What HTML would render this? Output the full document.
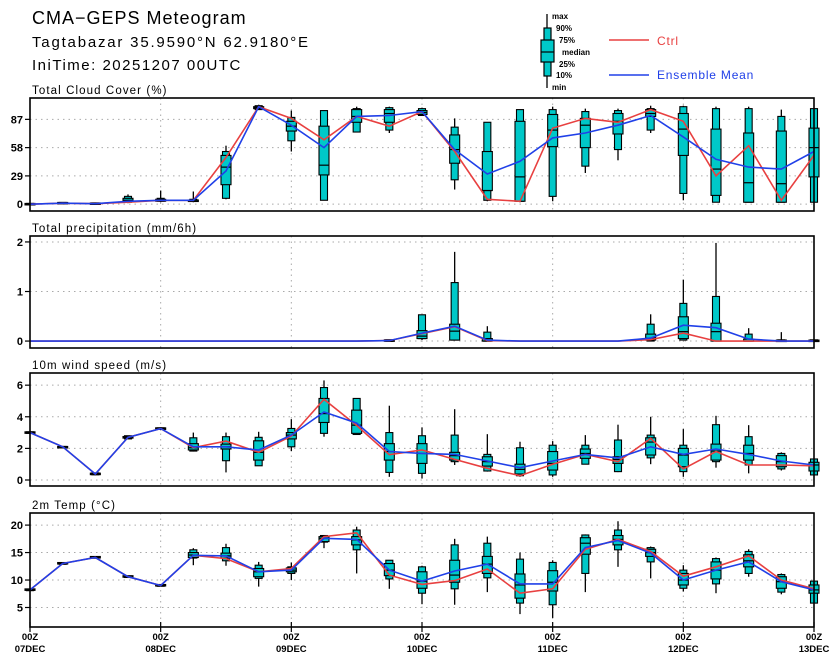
<!DOCTYPE html>
<html><head><meta charset="utf-8"><style>
html,body{margin:0;padding:0;background:#fff;}
svg{display:block;font-family:"Liberation Sans",sans-serif;}
</style></head><body>
<svg id="chart" width="840" height="664" viewBox="0 0 840 664" xmlns="http://www.w3.org/2000/svg">
<text x="32" y="24" font-size="18" letter-spacing="1">CMA−GEPS Meteogram</text>
<text x="32" y="47" font-size="15" letter-spacing="1.8">Tagtabazar 35.9590°N 62.9180°E</text>
<text x="32" y="70" font-size="15" letter-spacing="1.5">IniTime: 20251207 00UTC</text>
<g>
<line x1="547" y1="14" x2="547" y2="88" stroke="#000" stroke-width="1.3"/>
<rect x="544" y="28" width="7" height="48" fill="#00c8c8" stroke="#000" stroke-width="1.2"/>
<rect x="541" y="40" width="13" height="22" fill="#00c8c8" stroke="#000" stroke-width="1.2"/>
<line x1="541" y1="52" x2="554" y2="52" stroke="#000" stroke-width="1.2"/>
<g font-size="8" font-weight="bold">
<text x="552" y="19">max</text><text x="556" y="31">90%</text><text x="559" y="43">75%</text>
<text x="562" y="55">median</text><text x="559" y="67">25%</text><text x="556" y="78">10%</text><text x="552" y="90">min</text>
</g>
<line x1="609" y1="40" x2="649" y2="40" stroke="#e84040" stroke-width="1.5"/>
<text x="657" y="45" font-size="12" fill="#e84040" letter-spacing="0.8">Ctrl</text>
<line x1="609" y1="75" x2="649" y2="75" stroke="#2040e8" stroke-width="1.5"/>
<text x="657" y="79" font-size="12" fill="#2040e8" letter-spacing="0.8">Ensemble Mean</text>
</g>
</svg>
<script>
// ---- data ----
var dayLabels = ["07DEC","08DEC","09DEC","10DEC","11DEC","12DEC","13DEC"];
// Cloud cover (%)
var cloudMin = [0,1,0.5,1,2,2,5,97,54,4,74,73,91,15,3,2,3,32,45,73,4,2,2,2,2];
var cloudP10 = [0,1,0.5,2,3,3,6,97,65,4,74,76,91,25,4,3,8,39,56,76,11,2,2,2,2];
var cloudP25 = [0,1,0.5,3,3,3,20,98,75,30,84,84,92,42,14,3,59,58,72,90,50,9,2,2,28];
var cloudMed = [0,1,0.5,4,4,4,38,99,80,40,90,93,94,56,14,28,76,81,85,93,77,36,22,21,58];
var cloudP75 = [0,1,0.5,6,5,4,50,100,85,80,97,97,96,71,54,85,92,88,93,97,93,77,73,75,78];
var cloudP90 = [0,1,0.5,8,6,5,54,101,89,96,98,99,98,79,84,97,97,95,96,98,100,98,98,90,98];
var cloudMax = [0,1,0.5,10,14,13,60,102,96,96,100,100,99,88,84,97,100,98,98,101,101,100,100,97,98];
var cloudCtrl = [0,1,0.5,2,4,4,48,100,88,66,90,80,95,54,5,3,78,88,84,97,85,29,60,4,50];
var cloudMean = [0,1,0.5,3,4,4,34,100,81,58,90,91,95,56,31,44,68,73,81,91,69,46,38,36,54];
// Precipitation (mm/6h)
var prMin = [0,0,0,0,0,0,0,0,0,0,0,0,0.02,0.02,0,0,0,0,0,0,0.02,0,0,0,0];
var prP10 = [0,0,0,0,0,0,0,0,0,0,0,0,0.05,0.02,0,0,0,0,0,0,0.02,0,0,0,0];
var prP25 = [0,0,0,0,0,0,0,0,0,0,0,0,0.05,0.02,0,0,0,0,0,0.02,0.05,0,0,0,0];
var prMed = [0,0,0,0,0,0,0,0,0,0,0,0.01,0.1,0.2,0,0,0,0,0,0.06,0.19,0.19,0,0,0];
var prP75 = [0,0,0,0,0,0,0,0,0,0,0,0.02,0.21,0.34,0.05,0,0,0,0,0.14,0.49,0.36,0.04,0.01,0.01];
var prP90 = [0,0,0,0,0,0,0,0,0,0,0,0.02,0.53,1.18,0.18,0,0,0,0,0.34,0.76,0.9,0.14,0.02,0.02];
var prMax = [0,0,0,0,0,0,0,0,0,0,0,0.03,0.53,1.8,0.3,0,0,0,0,0.54,1.24,1.98,0.26,0.18,0.03];
var prCtrl = [0,0,0,0,0,0,0,0,0,0,0,0.01,0.15,0.29,0.01,0,0,0,0,0.03,0.16,0,0,0,0];
var prMean = [0,0,0,0,0,0,0,0,0,0,0,0.01,0.16,0.3,0.02,0,0,0,0,0.06,0.32,0.27,0.04,0,0];
// Wind speed (m/s)
var wMin = [3,2.05,0.3,2.6,3.15,1.8,0.48,0.9,1.83,2.74,2.85,0.2,0.1,0.95,0.53,0.2,0.2,1.0,0.5,1.0,0.2,0.78,0.42,0.6,0.32];
var wP10 = [3,2.05,0.33,2.6,3.2,1.83,1.22,0.9,2.1,2.95,2.88,0.48,0.42,1.16,0.57,0.27,0.32,1.0,0.53,1.4,0.53,1.16,0.95,0.7,0.32];
var wP25 = [3,2.05,0.35,2.65,3.2,1.9,1.96,1.26,2.6,3.64,2.95,1.26,1.05,1.26,0.88,0.38,0.63,1.37,1.05,1.58,0.84,1.26,1.26,0.84,0.57];
var wMed = [3,2.1,0.38,2.7,3.25,2.04,2.1,1.75,2.84,4.2,3.47,1.8,1.68,1.54,1.16,0.67,1.05,1.68,1.3,2.4,1.58,1.83,1.68,1.16,0.95];
var wP75 = [3,2.1,0.42,2.75,3.3,2.3,2.27,2.48,3.0,5.16,4.42,2.3,2.3,1.75,1.47,1.0,1.8,1.96,1.47,2.67,2.0,2.27,2.2,1.54,1.12];
var wP90 = [3,2.1,0.45,2.8,3.3,2.67,2.74,2.7,3.26,5.85,5.16,3.0,2.8,2.84,1.62,2.04,2.2,2.2,2.53,2.84,2.2,3.5,2.74,1.68,1.33];
var wMax = [3,2.1,0.45,2.8,3.35,3.0,3.0,3.05,3.85,6.3,5.16,4.7,3.33,4.48,2.9,2.42,2.46,2.84,3.5,4.0,3.22,4.06,3.47,1.75,1.33];
var wCtrl = [3,2.1,0.38,2.7,3.25,2.05,2.46,1.75,2.78,5.1,3.45,1.6,1.9,1.3,0.74,0.27,1.0,1.62,1.16,2.63,0.7,1.8,0.95,0.95,0.9];
var wMean = [3,2.1,0.38,2.7,3.25,2.1,2.1,1.9,2.84,4.3,3.6,1.8,1.68,1.62,1.2,0.78,1.2,1.62,1.4,2.1,1.62,1.96,1.62,1.2,0.95];
// 2m temperature (°C)
var tMin = [8.1,12.9,14.0,10.5,8.9,12.7,12.6,8.8,10.0,15.8,11.2,8.4,5.6,5.5,7.8,3.8,3.1,7.8,12.4,10.3,7.9,7.6,10.6,7.4,5.8];
var tP10 = [8.1,12.9,14.0,10.5,8.9,14.0,13.5,10.3,11.2,16.9,15.5,10.2,7.6,8.4,10.4,5.8,5.5,11.2,15.5,13.3,8.5,9.3,11.2,7.8,5.8];
var tP25 = [8.2,13.0,14.1,10.6,9.0,14.1,14.0,10.6,11.5,17.0,16.4,10.8,8.5,9.6,11.2,6.7,8.0,14.7,16.4,14.3,9.1,10.2,12.4,8.5,7.6];
var tMed = [8.2,13.0,14.1,10.6,9.0,14.55,14.4,11.5,11.8,17.6,17.3,11.8,9.8,10.9,12.9,9.1,9.6,16.7,17.4,15.0,10.0,11.8,13.5,9.7,8.2];
var tP75 = [8.3,13.1,14.2,10.7,9.1,15.0,14.9,12.1,12.2,17.9,17.9,13.0,11.5,13.6,14.3,11.1,11.7,17.7,18.1,15.6,11.2,13.3,14.6,10.6,9.1];
var tP90 = [8.3,13.1,14.2,10.7,9.1,15.5,15.9,12.7,12.4,18.1,19.1,13.6,12.4,16.4,16.7,13.8,13.2,18.2,19.1,15.9,11.8,13.9,15.2,11.0,9.8];
var tMax = [8.3,13.1,14.2,10.7,9.1,15.8,16.6,13.3,13.2,18.2,19.7,13.6,12.6,17.5,17.9,15.0,13.6,18.3,20.7,16.1,12.7,14.1,15.6,11.2,9.8];
var tCtrl = [8.2,13.0,14.1,10.6,9.0,14.5,13.9,11.5,12.1,17.9,18.6,10.9,9.2,9.9,12.0,7.6,8.4,15.6,17.4,15.2,10.7,12.4,14.4,10.0,8.4];
var tMean = [8.2,13.0,14.1,10.6,9.0,14.5,14.4,11.5,11.8,17.6,17.4,11.8,9.8,11.65,12.9,9.3,9.3,15.9,17.2,14.9,10.0,11.8,13.3,9.7,8.2];
var cloudTicks = [0,29,58,87];
var prTicks = [0,1,2];
var wTicks = [0,2,4,6];
var tTicks = [5,10,15,20];

// ---- drawing ----
var NS = "http://www.w3.org/2000/svg";
var svg = document.getElementById("chart");
var X0 = 30, X1 = 814, NSTEP = 24;
function xScale(i){ return X0 + (X1 - X0) * i / NSTEP; }
function mk(tag, attrs, parent){
  var e = document.createElementNS(NS, tag);
  for (var k in attrs) e.setAttribute(k, attrs[k]);
  (parent || svg).appendChild(e);
  return e;
}
var panels = [
  {name:"cloud", title:"Total Cloud Cover (%)", top:98, bottom:211, vmin:-7, vmax:108.9, ticks:cloudTicks,
   d:[cloudMin,cloudP10,cloudP25,cloudMed,cloudP75,cloudP90,cloudMax], ctrl:cloudCtrl, mean:cloudMean},
  {name:"precip", title:"Total precipitation (mm/6h)", top:236, bottom:348, vmin:-0.14, vmax:2.12, ticks:prTicks,
   d:[prMin,prP10,prP25,prMed,prP75,prP90,prMax], ctrl:prCtrl, mean:prMean},
  {name:"wind", title:"10m wind speed (m/s)", top:373, bottom:486, vmin:-0.38, vmax:6.77, ticks:wTicks,
   d:[wMin,wP10,wP25,wMed,wP75,wP90,wMax], ctrl:wCtrl, mean:wMean},
  {name:"temp", title:"2m Temp (°C)", top:513, bottom:627, vmin:1.45, vmax:22.2, ticks:tTicks,
   d:[tMin,tP10,tP25,tMed,tP75,tP90,tMax], ctrl:tCtrl, mean:tMean}
];
panels.forEach(function(p){
  var g = mk("g", {});
  
  
  function y(v){ return p.bottom - (v - p.vmin) / (p.vmax - p.vmin) * (p.bottom - p.top); }
  var t = mk("text", {x:32, y:p.top-4, "font-size":11.5, "letter-spacing":"1.1"}, g);
  
  
  t.textContent = p.title;
  p.ticks.forEach(function(tv){
    var gl = mk("line", {x1:X0, x2:X1, y1:y(tv), y2:y(tv), stroke:"#aaa", "stroke-width":1, "stroke-dasharray":"1.5 4"}, g);
    
    
    mk("line", {x1:X0-5, x2:X0, y1:y(tv), y2:y(tv), stroke:"#000", "stroke-width":1.2}, g);
    var tl = mk("text", {x:X0-7, y:y(tv)+4, "font-size":11, "font-weight":"bold", "text-anchor":"end"}, g);
    
    
    tl.textContent = tv;
  });
  for (var dday = 1; dday < 6; dday++){
    var xv = xScale(dday*4);
    var vl = mk("line", {x1:xv, x2:xv, y1:p.top, y2:p.bottom, stroke:"#aaa", "stroke-width":1, "stroke-dasharray":"1.5 4"}, g);
    
    
  }
  var d = p.d;
  for (var i = 0; i <= NSTEP; i++){
    if (p.name === "precip" && d[6][i] <= 0) continue;
    var xc = xScale(i);
    var bg = mk("g", {}, g);
    
    
    mk("line", {x1:xc, x2:xc, y1:y(d[6][i]), y2:y(d[0][i]), stroke:"#000", "stroke-width":1.3}, bg);
    var h1 = Math.max(1.5, y(d[1][i]) - y(d[5][i]));
    mk("rect", {x:xc-3.5, y:y(d[5][i]) - (h1 - (y(d[1][i]) - y(d[5][i])))/2, width:7, height:h1, fill:"#00c8c8", stroke:"#000", "stroke-width":1.1}, bg);
    var h2 = Math.max(1.5, y(d[2][i]) - y(d[4][i]));
    mk("rect", {x:xc-5, y:y(d[4][i]) - (h2 - (y(d[2][i]) - y(d[4][i])))/2, width:10, height:h2, fill:"#00c8c8", stroke:"#000", "stroke-width":1.1}, bg);
    mk("line", {x1:xc-5, x2:xc+5, y1:y(d[3][i]), y2:y(d[3][i]), stroke:"#000", "stroke-width":1.2}, bg);
  }
  function poly(arr, col, nm){
    var pts = arr.map(function(v,i){ return xScale(i).toFixed(1) + "," + y(v).toFixed(1); }).join(" ");
    var pl = mk("polyline", {points:pts, fill:"none", stroke:col, "stroke-width":1.6}, g);
    
    
  }
  poly(p.ctrl, "#e84040", p.name + '-ctrl-line');
  poly(p.mean, "#2040e8", p.name + '-mean-line');
  var fr = mk("rect", {x:X0, y:p.top, width:X1-X0, height:p.bottom-p.top, fill:"none", stroke:"#000", "stroke-width":1.6}, g);
  
  
});
var last = panels[3];
dayLabels.forEach(function(lbl, k){
  var xv = xScale(k*4);
  mk("line", {x1:xv, x2:xv, y1:last.bottom-5, y2:last.bottom+5, stroke:"#000", "stroke-width":1.2});
  var a = mk("text", {x:xv, y:640, "font-size":9.5, "font-weight":"bold", "text-anchor":"middle"});
  
  
  a.textContent = "00Z";
  var b = mk("text", {x:xv, y:652, "font-size":9.5, "font-weight":"bold", "text-anchor":"middle"});
  
  
  b.textContent = lbl;
});
</script>
</body></html>
